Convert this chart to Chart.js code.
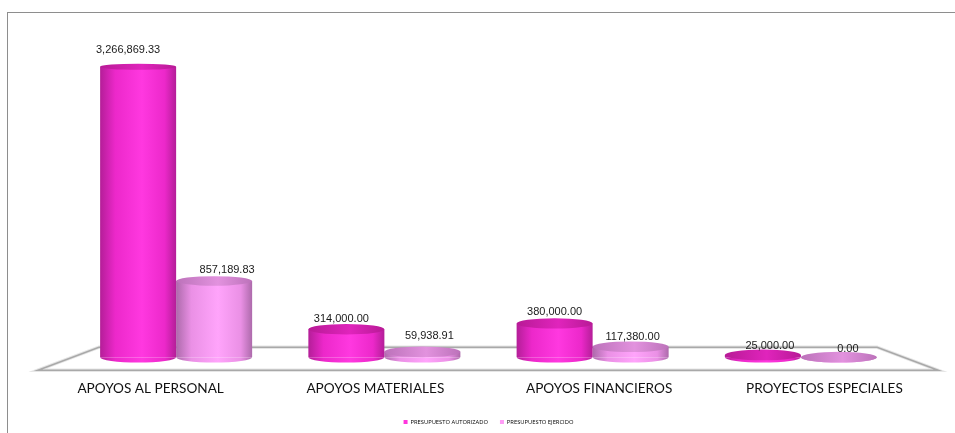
<!DOCTYPE html>
<html><head><meta charset="utf-8">
<script src="https://cdn.jsdelivr.net/npm/chart.js@4"></script>
<style>
html,body{margin:0;padding:0;background:#fff;overflow:hidden}
#wrap{position:relative;width:955px;height:433px}
#frame{position:absolute;left:7px;top:12px;right:0;bottom:0;border-left:1px solid #8e8e8e;border-top:1px solid #8e8e8e}
canvas{position:absolute;left:0;top:0}
</style></head><body>
<div id="wrap"><div id="frame"></div><canvas id="c" width="955" height="433"></canvas></div>
<script>
const categories = ["APOYOS AL PERSONAL","APOYOS MATERIALES","APOYOS FINANCIEROS","PROYECTOS ESPECIALES"];
const seriesNames = ["PRESUPUESTO AUTORIZADO","PRESUPUESTO EJERCIDO"];
const autorizado = [3266869.33,314000,380000,25000];
const ejercido = [857189.83,59938.91,117380,0];

const palettes = [
  {legend:"#ff35dd",edge:"#b41e98",mid:"#ec28ca",peak:"#ff38e0",tEdge:"#b81a96",tPeak:"#e024bc"},
  {legend:"#ff9cf6",edge:"#ad6aab",mid:"#ea90e5",peak:"#ffa4fb",tEdge:"#bc72ba",tPeak:"#e292de"}
];
const labelNudge = [
  [[-10,-17],[-5,-10],[0,-11],[7,-9]],
  [[13,-11],[7,-16],[2,-10],[9,-8]]
];
const tickNudge = [-25.5,-9,6.5,23.5];
const fmt = v => v.toLocaleString("en-US",{minimumFractionDigits:2,maximumFractionDigits:2});

function hGrad(ctx,x,w,stops){
  const g = ctx.createLinearGradient(x-w/2,0,x+w/2,0);
  stops.forEach(s=>g.addColorStop(s[0],s[1]));
  return g;
}
const bodyGrad = (ctx,x,w,p)=>hGrad(ctx,x,w,[[0,p.edge],[.2,p.mid],[.55,p.peak],[.85,p.mid],[1,p.edge]]);
const topGrad = (ctx,x,w,p)=>hGrad(ctx,x,w,[[0,p.tEdge],[.55,p.tPeak],[1,p.tEdge]]);

const cylinder = {
  id:"cylinder",
  beforeDatasetsDraw(chart){
    const {ctx,chartArea:a,scales:{y}} = chart;
    const base = y.getPixelForValue(0);
    const front = base+13, back = base-10;
    ctx.save();
    ctx.lineJoin="miter";
    ctx.strokeStyle="#e6e6e6";ctx.lineWidth=3.5;
    ctx.beginPath();ctx.moveTo(38,front);ctx.lineTo(a.left+27,back);ctx.lineTo(a.right-28,back);ctx.lineTo(a.right+33,front);ctx.closePath();ctx.stroke();
    ctx.strokeStyle="#a9a9a9";ctx.lineWidth=1.6;ctx.stroke();
    ctx.restore();
  },
  beforeDatasetDraw(chart,args){
    const p = palettes[args.index];
    args.meta.data.forEach(el=>{
      el.options = Object.assign({},el.options,{backgroundColor:bodyGrad(chart.ctx,el.x,el.width,p)});
    });
  },
  afterDatasetDraw(chart,args){
    const {ctx,scales:{y}} = chart;
    const p = palettes[args.index];
    const base = y.getPixelForValue(0);
    args.meta.data.forEach(el=>{
      const w = el.width, rx = w/2;
      const h = base-el.y;
      const ryTop = Math.max(3,5.4-h*0.008);
      ctx.save();
      ctx.fillStyle = bodyGrad(ctx,el.x,w,p);
      ctx.beginPath();ctx.ellipse(el.x,base,rx,5.4,0,0,Math.PI);ctx.closePath();ctx.fill();
      ctx.fillStyle = topGrad(ctx,el.x,w,p);
      ctx.beginPath();ctx.ellipse(el.x,el.y,rx,ryTop,0,0,Math.PI*2);ctx.fill();
      ctx.restore();
    });
  },
  afterDatasetsDraw(chart){
    const {ctx,scales:{x}} = chart;
    ctx.save();
    ctx.textAlign = "center";ctx.textBaseline = "middle";
    ctx.font = "11px 'Liberation Sans'";
    ctx.fillStyle = "#1a1a1a";
    chart.data.datasets.forEach((ds,i)=>{
      chart.getDatasetMeta(i).data.forEach((el,j)=>{
        const n = labelNudge[i][j];
        ctx.fillText(fmt(ds.data[j]),el.x+n[0],el.y+n[1]);
      });
    });
    ctx.font = "13.6px Lato";
    ctx.fillStyle = "#111";
    categories.forEach((c,j)=>ctx.fillText(c,x.getPixelForValue(j)+tickNudge[j],389));
    ctx.restore();
  }
};
new Chart(document.getElementById("c"),{
  type:"bar",
  plugins:[cylinder],
  data:{labels:categories,datasets:[autorizado,ejercido].map((d,i)=>({
    label:seriesNames[i],data:d,borderWidth:0,
    backgroundColor:palettes[i].legend,
    barPercentage:1,categoryPercentage:.73
  }))},
  options:{
    responsive:false,animation:false,
    layout:{padding:{left:72,right:50,top:46,bottom:-2}},
    plugins:{
      tooltip:{enabled:false},
      legend:{position:"bottom",labels:{
        boxWidth:4,boxHeight:4,padding:12,color:"#444",font:{family:"'Open Sans'",size:5.8},
        generateLabels:ch=>ch.data.datasets.map((d,i)=>({text:d.label,fillStyle:palettes[i].legend,strokeStyle:palettes[i].legend,lineWidth:0,datasetIndex:i}))
      }}
    },
    scales:{
      x:{grid:{display:false},border:{display:false},
        ticks:{display:false},
        afterFit:s=>{s.height=50}},
      y:{display:false,min:0,max:3500000}
    }
  }
});
</script></body></html>
